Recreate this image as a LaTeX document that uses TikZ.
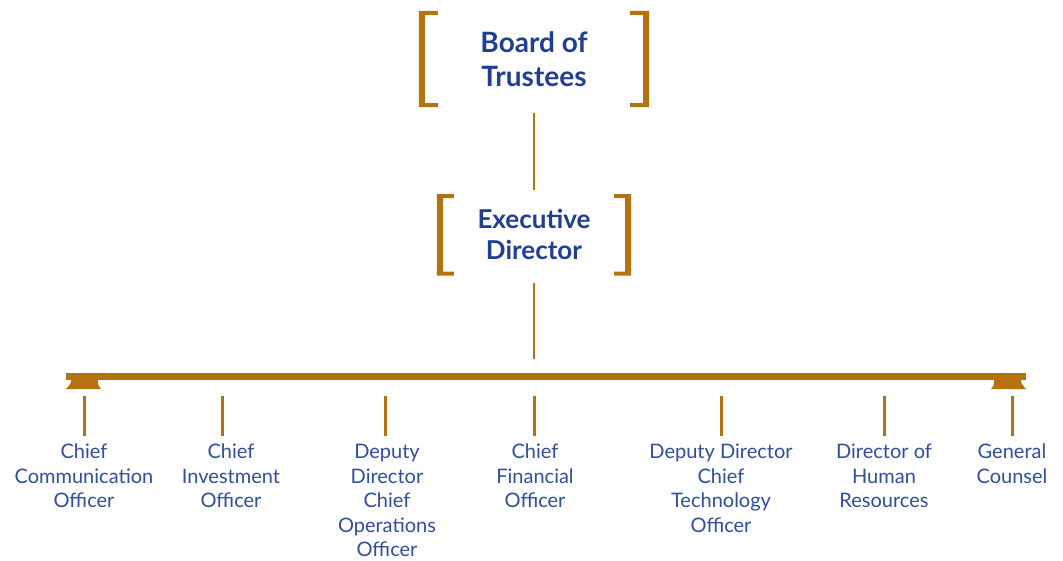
\documentclass[tikz,border=0pt]{standalone}
\usepackage{fontspec}
\setmainfont{Lato}
\usetikzlibrary{positioning}
\usetikzlibrary{calc}
\definecolor{brown_main}{RGB}{181,114,16}
\definecolor{blue_title}{RGB}{32,62,146}
\definecolor{blue_role}{RGB}{48,78,158}
\tikzset{
        % Top boxes held between brackets
        node_title/.style={align=center, inner sep=0pt, text=blue_title, font=\bfseries},
        % Roles under the bar
        node_role/.style={align=center, inner sep=0pt, anchor=north, text=blue_role,
            font=\fontsize{20}{24.5}\selectfont},
        % Connectors
        line_link/.style={draw=brown_main, line width=2.9pt},
        line_drop/.style={draw=brown_main, line width=3pt}
}
% two brackets round a node, #2 = serif length
\newcommand{\drawbrackets}[2]{%
    \fill[brown_main] (#1.north west) -- ++(#2,0) -- ++(0,4) -- ++(-#2+6,0)
        -- ($(#1.south west)+(6,-4)$) -- ++(#2-6,0) -- ++(0,4) -- (#1.south west) -- cycle;
    \fill[brown_main] (#1.north east) -- ++(-#2,0) -- ++(0,4) -- ++(#2-6,0)
        -- ($(#1.south east)+(-6,-4)$) -- ++(-#2+6,0) -- ++(0,4) -- (#1.south east) -- cycle;
}
\begin{document}
\begin{tikzpicture}[x=1pt, y=-1pt]
    \useasboundingbox (0,0) rectangle (1063,560);

    \node[node_title, minimum width=230pt, minimum height=96pt,
        font=\bfseries\fontsize{28}{34}\selectfont] (board) at (534,59) {Board of\\Trustees};
    \node[node_title, minimum width=194pt, minimum height=81pt,
        font=\bfseries\fontsize{26}{31}\selectfont, below=87pt of board] (exec) {Executive\\Director};
    \drawbrackets{board}{19}
    \drawbrackets{exec}{17}

    \draw[line_link, shorten <=6pt, shorten >=4pt] (board.south) -- (exec.north);

    % the bar with its ribbon ends
    \coordinate (bar_top) at (534,373);
    \draw[line_link, shorten <=7pt, shorten >=14pt] (exec.south) -- (bar_top);
    \fill[brown_main] (66,373) rectangle (1026,379.5);
    \fill[brown_main] (66,373) -- (100,373) -- (98,379) .. controls (98,385) .. (101,389)
        -- (66,389) .. controls (73,381) .. (66,373) -- cycle;
    \fill[brown_main] (1026,373) -- (992,373) -- (994,379) .. controls (994,385) .. (991,389)
        -- (1026,389) .. controls (1019,381) .. (1026,373) -- cycle;

    % roles
    \node[node_role] (chief_comm) at (84,444) {Chief\\Communication\\Officer};
    \node[node_role] (chief_invest) at (231,444) {Chief\\Investment\\Officer};
    \node[node_role] (deputy_ops) at (387,444) {Deputy\\Director\\Chief\\Operations\\Officer};
    \node[node_role] (chief_fin) at (535,444) {Chief\\Financial\\Officer};
    \node[node_role] (deputy_tech) at (721,444) {Deputy Director\\Chief\\Technology\\Officer};
    \node[node_role] (hr_dir) at (884,444) {Director of\\Human\\Resources};
    \node[node_role] (counsel) at (1012,444) {General\\Counsel};

    \foreach \x/\role in {84/chief_comm, 222/chief_invest, 385/deputy_ops, 534/chief_fin,
                          721/deputy_tech, 884/hr_dir, 1012/counsel}{
        \coordinate (drop_\role) at (\x,396);
        \draw[line_drop, shorten >=8pt] (drop_\role) -- (drop_\role |- \role.north);
    }
\end{tikzpicture}
\end{document}
